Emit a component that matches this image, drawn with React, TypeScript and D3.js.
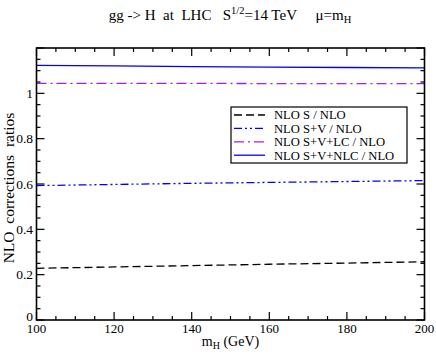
import React from 'react';
import * as d3 from 'd3';

// chart data
const massValues = [100, 120, 140, 160, 180, 200];
const ratioS = [0.228, 0.234, 0.240, 0.246, 0.251, 0.257];
const ratioSV = [0.593, 0.598, 0.603, 0.607, 0.611, 0.615];
const ratioSVLC = [1.044, 1.044, 1.044, 1.043, 1.043, 1.043];
const ratioSVNLC = [1.123, 1.121, 1.118, 1.116, 1.114, 1.112];

const seriesNames = ['NLO S / NLO', 'NLO S+V / NLO', 'NLO S+V+LC / NLO', 'NLO S+V+NLC / NLO'];
const xTickLabels = [100, 120, 140, 160, 180, 200];
const yTickLabels = [0, 0.2, 0.4, 0.6, 0.8, 1];

const FONT = '"Liberation Serif", "DejaVu Serif", serif';

export default function App() {
  const width = 436;
  const height = 356;
  const margin = { top: 48, right: 11.5, bottom: 36, left: 36.5 };
  const w = width - margin.left - margin.right;
  const h = height - margin.top - margin.bottom;

  const x = d3.scaleLinear().domain([100, 200]).range([0, w]);
  const y = d3.scaleLinear().domain([0, 1.2]).range([h, 0]);

  const styles = [
    { color: '#000000', dash: '8,4' },
    { color: '#0000ff', dash: '8,3,2,3,2,3' },
    { color: '#a020f0', dash: '10,4,2,4' },
    { color: '#0000ff', dash: null },
  ];
  const allSeries = [ratioS, ratioSV, ratioSVLC, ratioSVNLC];

  const line = d3.line<number>()
    .x((d, i) => x(massValues[i]))
    .y(d => y(d));

  const xMinor = d3.range(100, 200.01, 5);
  const yMinor = d3.range(0, 1.2001, 0.05);

  const fmtY = (v: number) => (v === 0 || v === 1 ? String(v) : v.toFixed(1));

  const legendX = 231 - margin.left;
  const legendY = 107 - margin.top;

  return (
    <svg width={width} height={height} style={{ display: 'block', position: 'absolute', left: 0, top: 0 }}>
      <rect width={width} height={height} fill="#fff" />
      <text x={230} y={20} textAnchor="middle" fontFamily={FONT} fontSize={15} fill="#000" xmlSpace="preserve">
        <tspan>gg -&gt; H  at  LHC   S</tspan>
        <tspan dy={-6} fontSize={10.5}>1/2</tspan>
        <tspan dy={6}>=14 TeV     μ=m</tspan>
        <tspan dy={3} fontSize={10.5}>H</tspan>
      </text>
      <g transform={`translate(${margin.left},${margin.top})`}>
        {allSeries.map((s, i) => (
          <path key={i} d={line(s) || ''} fill="none" stroke={styles[i].color}
                strokeWidth={1.3} strokeDasharray={styles[i].dash || undefined} />
        ))}

        {/* ticks on all four sides, pointing inward */}
        {xMinor.map((v, i) => {
          const major = v % 20 === 0;
          const len = major ? 8 : 4;
          return (
            <g key={'xt' + i} stroke="#000" strokeWidth={1.2}>
              <line x1={x(v)} x2={x(v)} y1={h} y2={h - len} />
              <line x1={x(v)} x2={x(v)} y1={0} y2={len} />
            </g>
          );
        })}
        {yMinor.map((v, i) => {
          const major = i % 4 === 0;
          const len = major ? 8 : 4;
          return (
            <g key={'yt' + i} stroke="#000" strokeWidth={1.2}>
              <line x1={0} x2={len} y1={y(v)} y2={y(v)} />
              <line x1={w} x2={w - len} y1={y(v)} y2={y(v)} />
            </g>
          );
        })}

        <rect x={0} y={0} width={w} height={h} fill="none" stroke="#000" strokeWidth={1.6} />

        {xTickLabels.map(v => (
          <text key={'xl' + v} x={x(v)} y={h + 13} textAnchor="middle" fontFamily={FONT} fontSize={13} fill="#000">{v}</text>
        ))}
        {yTickLabels.map(v => (
          <text key={'yl' + v} x={-3.5} y={y(v) + (v === 0 ? 1 : 4.5)} textAnchor="end" fontFamily={FONT} fontSize={13.5} fill="#000">{fmtY(v)}</text>
        ))}

        <text x={w / 2} y={h + 26} textAnchor="middle" fontFamily={FONT} fontSize={14} fill="#000">
          <tspan>m</tspan>
          <tspan dy={3} fontSize={10}>H</tspan>
          <tspan dy={-3}> (GeV)</tspan>
        </text>

        <text transform={`translate(${14 - margin.left},${188 - margin.top}) rotate(-90)`} textAnchor="middle"
              fontFamily={FONT} fontSize={15.5} fill="#000" xmlSpace="preserve">NLO  corrections  ratios</text>

        <g transform={`translate(${legendX},${legendY})`}>
          <rect x={0} y={0} width={176} height={56} fill="#fff" stroke="#000" strokeWidth={1.2} />
          {seriesNames.map((name, i) => (
            <g key={'lg' + i} transform={`translate(0,${8 + i * 13.4})`}>
              <line x1={3} x2={34} y1={0} y2={0} stroke={styles[i].color} strokeWidth={1.3}
                    strokeDasharray={styles[i].dash || undefined} />
              <text x={43} y={4.3} fontFamily={FONT} fontSize={12.6} fill="#000">{name}</text>
            </g>
          ))}
        </g>
      </g>
    </svg>
  );
}
